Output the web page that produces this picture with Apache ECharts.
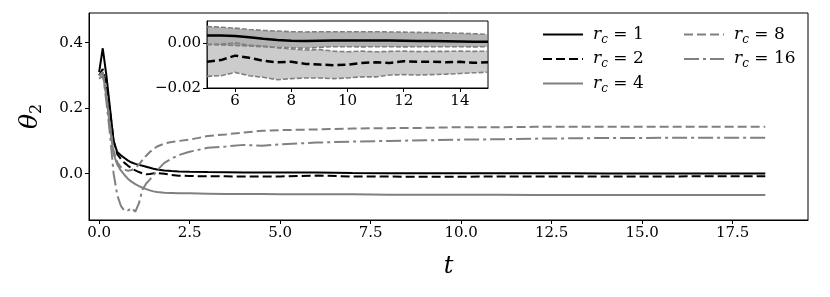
<!DOCTYPE html>
<html>
<head>
<meta charset="utf-8">
<script src="https://cdn.jsdelivr.net/npm/echarts@6/dist/echarts.min.js"></script>
<style>
html,body{margin:0;padding:0;background:#fff;}
#chart{width:830px;height:297px;}
</style>
</head>
<body>
<div id="chart"></div>
<script>
// ---- main panel data ----
const t = [0, 0.1, 0.2, 0.3, 0.4, 0.5, 0.6, 0.7, 0.8, 0.9, 1.0, 1.1, 1.2, 1.3, 1.4, 1.5, 1.6, 1.8, 2.0, 2.2, 2.5, 3, 3.5, 4, 4.5, 5, 6, 7, 8, 9, 10, 11, 12, 13, 14, 15, 16, 17, 18, 18.4];
const rc1 = [0.31, 0.383, 0.30, 0.20, 0.10, 0.066, 0.056, 0.048, 0.040, 0.034, 0.030, 0.027, 0.024, 0.021, 0.018, 0.015, 0.013, 0.010, 0.008, 0.007, 0.006, 0.005, 0.0045, 0.004, 0.0038, 0.0035, 0.0033, 0.002, 0.0012, 0.0012, 0.0013, 0.0013, 0.0012, 0.001, 0.0008, 0.0007, 0.0007, 0.0006, 0.0006, 0.0006];
const rc2 = [0.30, 0.32, 0.27, 0.19, 0.10, 0.06, 0.045, 0.033, 0.024, 0.016, 0.010, 0.005, 0.001, -0.002, -0.001, 0.001, 0.002, 0.0, -0.004, -0.006, -0.007, -0.008, -0.008, -0.0085, -0.0085, -0.0085, -0.0058, -0.0085, -0.0088, -0.0095, -0.0093, -0.0085, -0.0082, -0.0083, -0.0085, -0.0083, -0.0082, -0.008, -0.008, -0.008];
const rc4 = [0.30, 0.31, 0.24, 0.14, 0.06, 0.028, 0.010, -0.004, -0.016, -0.025, -0.032, -0.038, -0.043, -0.047, -0.051, -0.054, -0.056, -0.058, -0.059, -0.060, -0.060, -0.061, -0.062, -0.062, -0.062, -0.063, -0.063, -0.063, -0.064, -0.064, -0.064, -0.064, -0.065, -0.065, -0.065, -0.065, -0.065, -0.065, -0.065, -0.065];
const rc8 = [0.29, 0.30, 0.24, 0.15, 0.07, 0.035, 0.020, 0.012, 0.009, 0.011, 0.018, 0.028, 0.042, 0.055, 0.066, 0.075, 0.083, 0.092, 0.097, 0.100, 0.104, 0.115, 0.120, 0.126, 0.131, 0.133, 0.135, 0.138, 0.139, 0.140, 0.142, 0.142, 0.143, 0.143, 0.143, 0.143, 0.143, 0.143, 0.143, 0.143];
const rc16 = [0.30, 0.31, 0.22, 0.12, 0.0, -0.065, -0.098, -0.113, -0.112, -0.105, -0.116, -0.09, -0.048, -0.03, -0.018, -0.005, 0.010, 0.033, 0.046, 0.057, 0.067, 0.079, 0.083, 0.088, 0.085, 0.090, 0.095, 0.098, 0.100, 0.102, 0.104, 0.105, 0.107, 0.108, 0.109, 0.109, 0.110, 0.110, 0.110, 0.110];
const mainXTicks = [0, 2.5, 5, 7.5, 10, 12.5, 15, 17.5];
const mainYTicks = [0, 0.2, 0.4];

// ---- inset data ----
const tIn = [5, 5.5, 6, 6.5, 7, 7.5, 8, 8.5, 9, 9.5, 10, 10.5, 11, 11.5, 12, 12.5, 13, 13.5, 14, 14.5, 15];
const in1Mean = [0.0035, 0.0035, 0.0033, 0.0027, 0.002, 0.0015, 0.0012, 0.0011, 0.0012, 0.0013, 0.0013, 0.0013, 0.0013, 0.0013, 0.0012, 0.0011, 0.001, 0.0009, 0.0008, 0.0007, 0.0007];
const in1Up = [0.0075, 0.0072, 0.0068, 0.0062, 0.0058, 0.0055, 0.0052, 0.0051, 0.0052, 0.0052, 0.0052, 0.0052, 0.0052, 0.0051, 0.005, 0.0049, 0.0048, 0.0047, 0.0045, 0.0043, 0.004];
const in1Lo = [-0.0005, -0.0007, -0.001, -0.0012, -0.0015, -0.0018, -0.002, -0.0022, -0.0018, -0.0015, -0.0015, -0.0016, -0.0015, -0.0015, -0.0016, -0.0015, -0.0015, -0.0015, -0.0015, -0.0016, -0.0015];
const in2Mean = [-0.0082, -0.0075, -0.0055, -0.0065, -0.0078, -0.0085, -0.0082, -0.0092, -0.0095, -0.0098, -0.0096, -0.0088, -0.0085, -0.0088, -0.008, -0.0083, -0.0082, -0.0085, -0.0083, -0.0087, -0.0085];
const in2Up = [-0.0005, -0.0003, 0.0002, -0.0008, -0.0012, -0.002, -0.0025, -0.003, -0.0028, -0.0035, -0.0038, -0.0035, -0.0038, -0.0036, -0.0035, -0.0037, -0.0036, -0.0036, -0.0035, -0.0036, -0.0035];
const in2Lo = [-0.0148, -0.0145, -0.013, -0.0145, -0.0152, -0.0163, -0.0158, -0.0155, -0.0155, -0.0158, -0.0155, -0.015, -0.015, -0.0142, -0.014, -0.0142, -0.014, -0.0138, -0.0135, -0.0132, -0.0129];
const inXTicks = [6, 8, 10, 12, 14];
const inYTicks = [-0.02, 0];

const names = ['r_c = 1', 'r_c = 2', 'r_c = 4', 'r_c = 8', 'r_c = 16'];

const pairs = (xs, ys) => xs.map((x, i) => [x, ys[i]]);

const serif = 'DejaVu Serif';
const tickLabel = {color: '#000', fontFamily: serif, fontSize: 15, margin: 6};
const axLine = {show: true, onZero: false, lineStyle: {color: '#000', width: 1}};

function mainLine(name, data, color, type) {
  return {
    name: name, type: 'line', xAxisIndex: 0, yAxisIndex: 0,
    data: pairs(t, data), symbol: 'none', showSymbol: false, silent: true,
    lineStyle: {color: color, width: 2, type: type}, itemStyle: {color: color},
    z: 3
  };
}
function legendBox(data, left) {
  return {
    data: data, orient: 'vertical', left: left, top: 26,
    itemWidth: 40, itemHeight: 14, itemGap: 5, padding: 0,
    selectedMode: false,
    itemStyle: {opacity: 0},
    formatter: n => '{i|r}{s|c}{n| = ' + n.split('= ')[1] + '}',
    textStyle: {
      color: '#000', padding: [0, 0, 0, 5],
      rich: {
        i: {fontFamily: serif, fontStyle: 'italic', fontSize: 17, lineHeight: 22, color: '#000'},
        s: {fontFamily: serif, fontStyle: 'italic', fontSize: 12, lineHeight: 12, verticalAlign: 'bottom', color: '#000'},
        n: {fontFamily: serif, fontSize: 17, lineHeight: 22, color: '#000'}
      }
    }
  };
}
function insetLine(name, data, style, extra) {
  return Object.assign({
    type: 'line', name: name, xAxisIndex: 1, yAxisIndex: 1,
    data: pairs(tIn, data), symbol: 'none', silent: true,
    lineStyle: style, z: 11
  }, extra || {});
}
// band between lower and upper bound, drawn as one polygon through the inset axes
function band(name, lo, up, fill) {
  const rows = tIn.map((x, i) => [x, lo[i], up[i]]);
  return {
    type: 'custom', name: name, coordinateSystem: 'cartesian2d', xAxisIndex: 1, yAxisIndex: 1,
    silent: true, z: 10,
    data: [rows[0]],
    renderItem: function (params, api) {
      const top = rows.map(r => api.coord([r[0], r[2]]));
      const bot = rows.slice().reverse().map(r => api.coord([r[0], r[1]]));
      return {type: 'polygon', shape: {points: top.concat(bot)}, style: {fill: fill, stroke: null}};
    }
  };
}

const chart = echarts.init(document.getElementById('chart'), null, {renderer: 'canvas'});
const option = {
  animation: false,
  backgroundColor: '#fff',
  grid: [
    {left: 89, top: 13, width: 719, height: 207, show: true, borderColor: '#000', borderWidth: 1, backgroundColor: 'transparent'},
    {left: 207, top: 21, width: 281, height: 67, show: true, borderColor: '#000', borderWidth: 1, backgroundColor: '#fff', z: 5}
  ],
  xAxis: [
    {
      type: 'value', gridIndex: 0, min: -0.28, max: 19.58,
      axisLine: axLine, splitLine: {show: false},
      axisTick: {show: true, length: 4, customValues: mainXTicks, lineStyle: {color: '#000'}},
      axisLabel: Object.assign({}, tickLabel, {customValues: mainXTicks, formatter: v => v.toFixed(1)}),
      name: 't', nameLocation: 'middle', nameGap: 35,
      nameTextStyle: {fontFamily: serif, fontStyle: 'italic', fontSize: 24, color: '#000'}
    },
    {
      type: 'value', gridIndex: 1, min: 5, max: 15, z: 6,
      axisLine: axLine, splitLine: {show: false},
      axisTick: {show: true, length: 4, customValues: inXTicks, lineStyle: {color: '#000'}},
      axisLabel: Object.assign({}, tickLabel, {customValues: inXTicks, formatter: v => String(v)})
    }
  ],
  yAxis: [
    {
      type: 'value', gridIndex: 0, min: -0.1414, max: 0.4907,
      axisLine: axLine, splitLine: {show: false},
      axisTick: {show: true, length: 4, customValues: mainYTicks, lineStyle: {color: '#000'}},
      axisLabel: Object.assign({}, tickLabel, {customValues: mainYTicks, formatter: v => v.toFixed(1).replace('-', '\u2212')}),
      name: '{a|θ}{b|2}', nameLocation: 'middle', nameRotate: 90, nameGap: 44,
      nameTextStyle: {
        color: '#000',
        rich: {
          a: {fontFamily: serif, fontStyle: 'italic', fontSize: 25, lineHeight: 30, color: '#000'},
          b: {fontFamily: serif, fontSize: 16, lineHeight: 16, verticalAlign: 'bottom', color: '#000'}
        }
      }
    },
    {
      type: 'value', gridIndex: 1, min: -0.02, max: 0.01, z: 6,
      axisLine: axLine, splitLine: {show: false},
      axisTick: {show: true, length: 4, customValues: inYTicks, lineStyle: {color: '#000'}},
      axisLabel: Object.assign({}, tickLabel, {customValues: inYTicks, formatter: v => v.toFixed(2).replace('-', '\u2212')})
    }
  ],
  legend: [legendBox(names.slice(0, 3), 542), legendBox(names.slice(3), 683)],
  series: [
    mainLine(names[0], rc1, '#000000', 'solid'),
    mainLine(names[1], rc2, '#000000', [9, 4]),
    mainLine(names[2], rc4, '#808080', 'solid'),
    mainLine(names[3], rc8, '#808080', [9, 4]),
    mainLine(names[4], rc16, '#808080', [15, 4, 3, 4]),
    band('band1', in1Lo, in1Up, 'rgba(128,128,128,0.6)'),
    band('band2', in2Lo, in2Up, 'rgba(128,128,128,0.4)'),
    insetLine('b1u', in1Up, {color: '#808080', width: 1.6, type: [5, 2]}),
    insetLine('b1l', in1Lo, {color: '#808080', width: 1.6, type: [5, 2]}),
    insetLine('b2u', in2Up, {color: '#808080', width: 1.6, type: [5, 2]}),
    insetLine('b2l', in2Lo, {color: '#808080', width: 1.6, type: [5, 2]}),
    insetLine('m1', in1Mean, {color: '#000', width: 2.5}, {z: 12}),
    insetLine('m2', in2Mean, {color: '#000', width: 2.5, type: [8, 4]}, {z: 12})
  ]
};
chart.setOption(option);
</script>
</body>
</html>
